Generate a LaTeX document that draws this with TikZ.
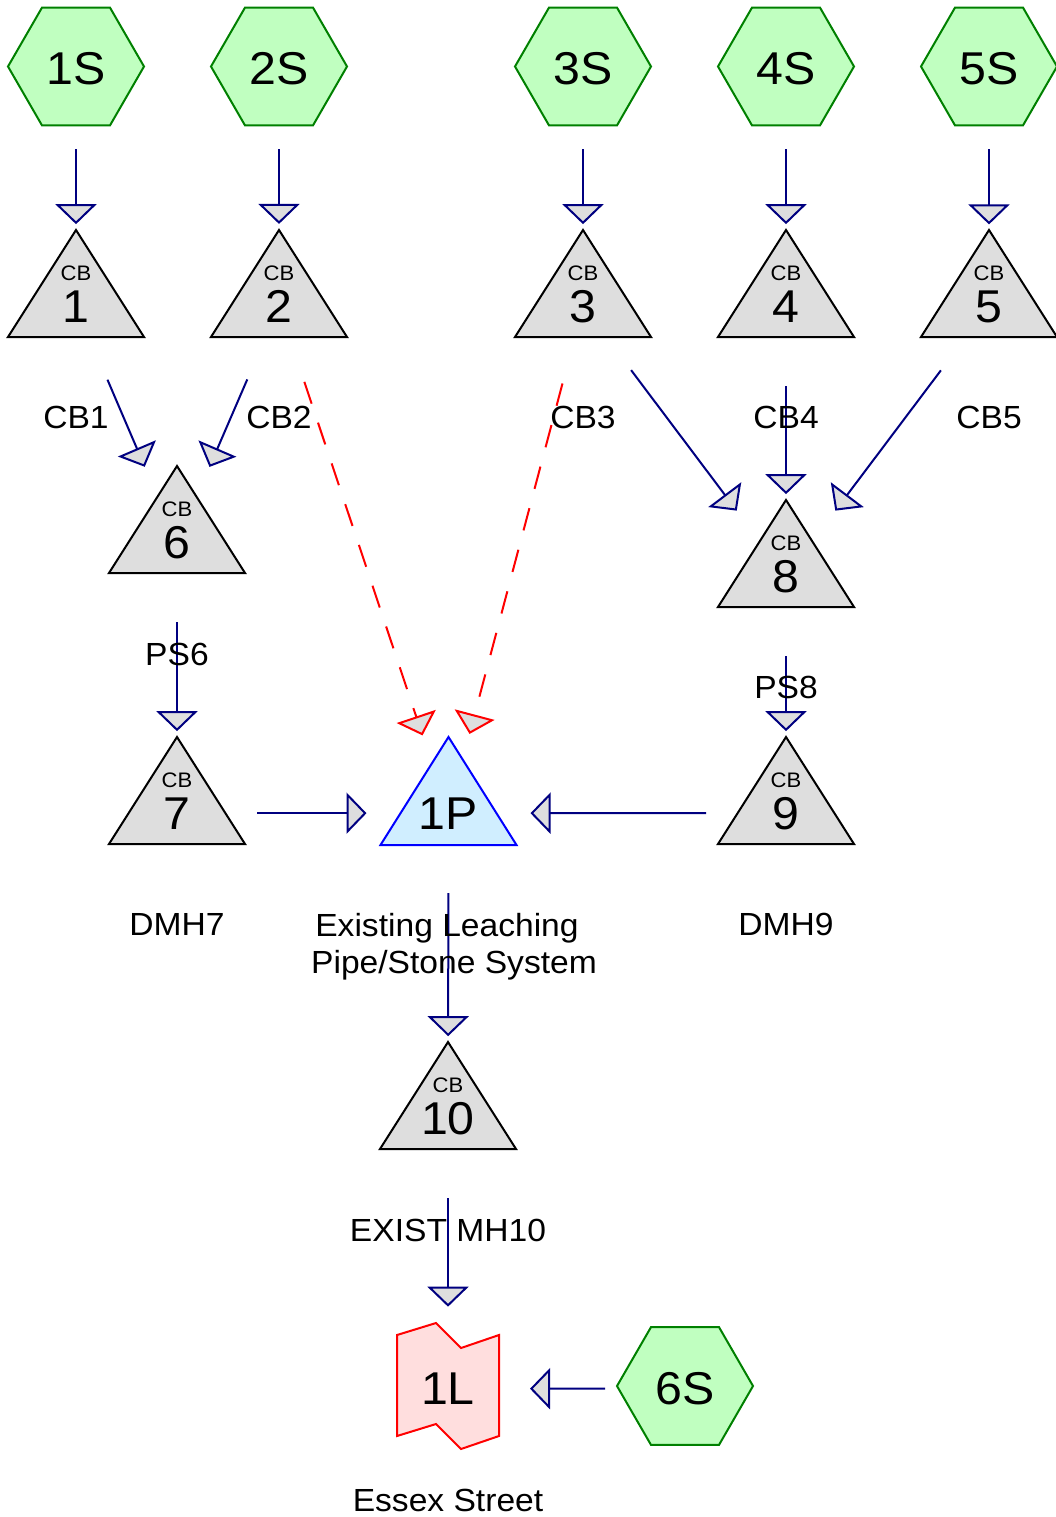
\documentclass[tikz,border=0pt]{standalone}
\usepackage{fontspec}
\setmainfont[FakeStretch=1.05]{Liberation Sans}
\usetikzlibrary{arrows.meta}
\definecolor{hexfill}{HTML}{C0FFC0}
\definecolor{hexline}{HTML}{008000}
\definecolor{trifill}{HTML}{DEDEDE}
\definecolor{navyc}{HTML}{000080}
\definecolor{pfill}{HTML}{D0EEFF}
\definecolor{lfill}{HTML}{FFDEDE}
\tikzset{
  hexshape/.style={draw=hexline, fill=hexfill, line width=2pt},
  trishape/.style={draw=black, fill=trifill, line width=2pt},
  bigtxt/.style={font=\fontsize{46}{54}\selectfont, inner sep=0pt, anchor=base},
  smalltxt/.style={font=\fontsize{21}{25}\selectfont, inner sep=0pt, anchor=base},
  lbl/.style={font=\fontsize{32}{38}\selectfont, inner sep=0pt, anchor=base},
  flow/.style={draw=navyc, line width=2pt, -{Triangle[length=20pt,width=41pt,fill=trifill]}, shorten <=80pt, shorten >=82pt},
  flowdash/.style={flow, draw=red, dash pattern=on 23pt off 20pt},
}
\newcommand\hexnode[4]{%
  \filldraw[hexshape] (#2,#3) +(0:68) -- +(60:68) -- +(120:68) -- +(180:68) -- +(240:68) -- +(300:68) -- cycle;
  \node[bigtxt] (#1) at (#2,#3+18.5) {#4};
}
\newcommand\cbnode[4]{%
  \filldraw[trishape] (#2-68,#3+107) -- (#2,#3) -- (#2+68,#3+107) -- cycle;
  \node[smalltxt] (#1cb) at (#2,#3+50) {CB};
  \node[bigtxt] (#1) at (#2,#3+92) {#4};
}
\begin{document}
\begin{tikzpicture}[x=1pt,y=-1pt]
\useasboundingbox (0,0) rectangle (1055,1517);
\fill[white] (0,0) rectangle (1055,1517);
% sources
\hexnode{s1}{76}{66.5}{1S}
\hexnode{s2}{279}{66.5}{2S}
\hexnode{s3}{583}{66.5}{3S}
\hexnode{s4}{786}{66.5}{4S}
\hexnode{s5}{989}{66.5}{5S}
\hexnode{s6}{685}{1386}{6S}
% catch basins
\cbnode{cb1}{76}{230}{1}
\cbnode{cb2}{279}{230}{2}
\cbnode{cb3}{583}{230}{3}
\cbnode{cb4}{786}{230}{4}
\cbnode{cb5}{989}{230}{5}
\cbnode{cb6}{177}{466}{6}
\cbnode{cb8}{786}{500}{8}
\cbnode{cb7}{177}{737}{7}
\cbnode{cb9}{786}{737}{9}
\cbnode{cb10}{448}{1042}{10}
% pond
\filldraw[draw=blue, fill=pfill, line width=2pt] (380.5,845) -- (448.5,737) -- (516.5,845) -- cycle;
\node[bigtxt] (p1) at (448.5,829) {1P};
% link
\filldraw[draw=red, fill=lfill, line width=2pt] (397,1335) -- (436,1323) -- (461,1348) -- (499,1335) -- (499,1436) -- (461,1449) -- (436,1424) -- (397,1436) -- cycle;
\node[bigtxt] (l1) at (448,1404.5) {1L};
% connectors
\draw[flow] (s1.center) -- (cb1.center);
\draw[flow] (s2.center) -- (cb2.center);
\draw[flow] (s3.center) -- (cb3.center);
\draw[flow] (s4.center) -- (cb4.center);
\draw[flow] (s5.center) -- (cb5.center);
\draw[flow] (cb1.center) -- (cb6.center);
\draw[flow] (cb2.center) -- (cb6.center);
\draw[flowdash] (cb2.center) -- (p1.center);
\draw[flowdash] (cb3.center) -- (p1.center);
\draw[flow] (cb3.center) -- (cb8.center);
\draw[flow] (cb4.center) -- (cb8.center);
\draw[flow] (cb5.center) -- (cb8.center);
\draw[flow] (cb6.center) -- (cb7.center);
\draw[flow] (cb8.center) -- (cb9.center);
\draw[flow] (cb7.center) -- (p1.center);
\draw[flow] (cb9.center) -- (p1.center);
\draw[flow] (p1.center) -- (cb10.center);
\draw[flow] (cb10.center) -- (l1.center);
\draw[flow] (s6.center) -- (l1.center);
% labels
\node[lbl] (lcb1) at (76,428) {CB1};
\node[lbl] (lcb2) at (279,428) {CB2};
\node[lbl] (lcb3) at (583,428) {CB3};
\node[lbl] (lcb4) at (786,428) {CB4};
\node[lbl] (lcb5) at (989,428) {CB5};
\node[lbl] (lps6) at (177,665) {PS6};
\node[lbl] (lps8) at (786,698) {PS8};
\node[lbl] (ldmh7) at (177,935) {DMH7};
\node[lbl] (ldmh9) at (786,935) {DMH9};
\node[lbl] (lp1a) at (447,936.5) {Existing Leaching};
\node[lbl] (lp1b) at (454,973) {Pipe/Stone System};
\node[lbl] (lcb10) at (448,1241) {EXIST MH10};
\node[lbl] (ll1) at (448,1511) {Essex Street};
\end{tikzpicture}
\end{document}
